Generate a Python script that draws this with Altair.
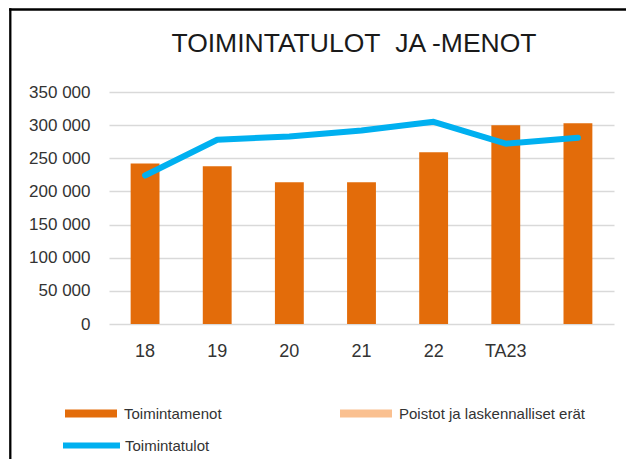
import altair as alt
import pandas as pd

# ---- data ----
vuodet = ["18", "19", "20", "21", "22", "TA23", ""]
toimintamenot = [242000, 238000, 214000, 214000, 259000, 300000, 303000]
toimintatulot = [224000, 278000, 283000, 292000, 305000, 272000, 281000]
palkkisarjat = ["Toimintamenot", "Poistot ja laskennalliset erät"]
viivasarja = "Toimintatulot"
otsikko = "TOIMINTATULOT\u00a0 JA -MENOT"
y_arvot = [0, 50000, 100000, 150000, 200000, 250000, 300000, 350000]

ORANGE = "#E36C0A"
PEACH = "#FAC090"
BLUE = "#00B0F0"
GRID = "#D9D9D9"
TEXT = "#333333"
FONT = "Liberation Sans, Arial, sans-serif"

bars_df = pd.DataFrame({"vuosi": vuodet, "arvo": toimintamenot, "sarja": palkkisarjat[0]})
line_df = pd.DataFrame({"vuosi": vuodet, "arvo": toimintatulot, "sarja": viivasarja})
title_df = pd.DataFrame({"t": [otsikko]})
frame_df = pd.DataFrame({"k": [0]})

x_enc = alt.X(
    "vuosi:N",
    sort=vuodet,
    scale=alt.Scale(paddingInner=0.6, paddingOuter=0.3),
    axis=alt.Axis(
        title=None, labelAngle=0, ticks=False, tickSize=0, domain=False, grid=False,
        labelFont=FONT, labelFontSize=18, labelColor=TEXT, labelPadding=18,
    ),
)
y_enc = alt.Y(
    "arvo:Q",
    scale=alt.Scale(domain=[0, 350000]),
    axis=alt.Axis(
        title=None, values=y_arvot, ticks=False, tickSize=0, domain=False,
        grid=True, gridColor=GRID, gridWidth=1.5,
        labelFont=FONT, labelFontSize=17, labelColor=TEXT, labelPadding=19,
        labelExpr="replace(format(datum.value, ','), regexp(',', 'g'), ' ')",
    ),
)

# chart frame: only the top and left edges fall inside the picture
frame_top = alt.Chart(frame_df).mark_rule(color="black", strokeWidth=2.3).encode(
    x=alt.value(-99.85), x2=alt.value(2000), y=alt.value(-82.5)
)
frame_left = alt.Chart(frame_df).mark_rule(color="black", strokeWidth=2.3).encode(
    x=alt.value(-98.7), y=alt.value(-83.65), y2=alt.value(2000)
)

bars = alt.Chart(bars_df).mark_bar().encode(
    x=x_enc,
    y=y_enc,
    color=alt.Color(
        "sarja:N",
        scale=alt.Scale(domain=palkkisarjat, range=[ORANGE, PEACH]),
        legend=alt.Legend(
            title=None, orient="none", legendX=-44, legendY=295.5,
            direction="horizontal", columns=2, columnPadding=118,
            symbolType="M-1,-0.154H1V0.154H-1Z", symbolSize=2704, symbolStrokeWidth=0,
            labelOffset=7, labelFont=FONT, labelFontSize=15, labelColor=TEXT,
            padding=0, labelLimit=400,
        ),
    ),
)

line = alt.Chart(line_df).mark_line(
    strokeWidth=6, strokeCap="round", strokeJoin="round"
).encode(
    x=x_enc,
    y=y_enc,
    color=alt.Color(
        "sarja:N",
        scale=alt.Scale(domain=[viivasarja], range=[BLUE]),
        legend=alt.Legend(
            title=None, orient="none", legendX=-49, legendY=322,
            symbolType="stroke", symbolSize=3249, symbolStrokeWidth=6,
            labelOffset=2, labelFont=FONT, labelFontSize=15, labelColor=TEXT,
            padding=0, labelLimit=400,
        ),
    ),
)

title = alt.Chart(title_df).mark_text(
    font=FONT, fontSize=26.5, color="#1a1a1a", align="center", baseline="alphabetic"
).encode(x=alt.value(245), y=alt.value(-40.5), text="t:N")

chart = (
    alt.layer(frame_top, frame_left, bars, line, title)
    .resolve_scale(color="independent")
    .properties(
        width=505, height=232,
        autosize=alt.AutoSizeParams(type="none"),
        padding={"left": 101, "top": 84, "right": 12, "bottom": 135},
    )
    .configure_view(stroke=None)
)

chart.save("out.html", embed_options={"renderer": "svg", "actions": False})
